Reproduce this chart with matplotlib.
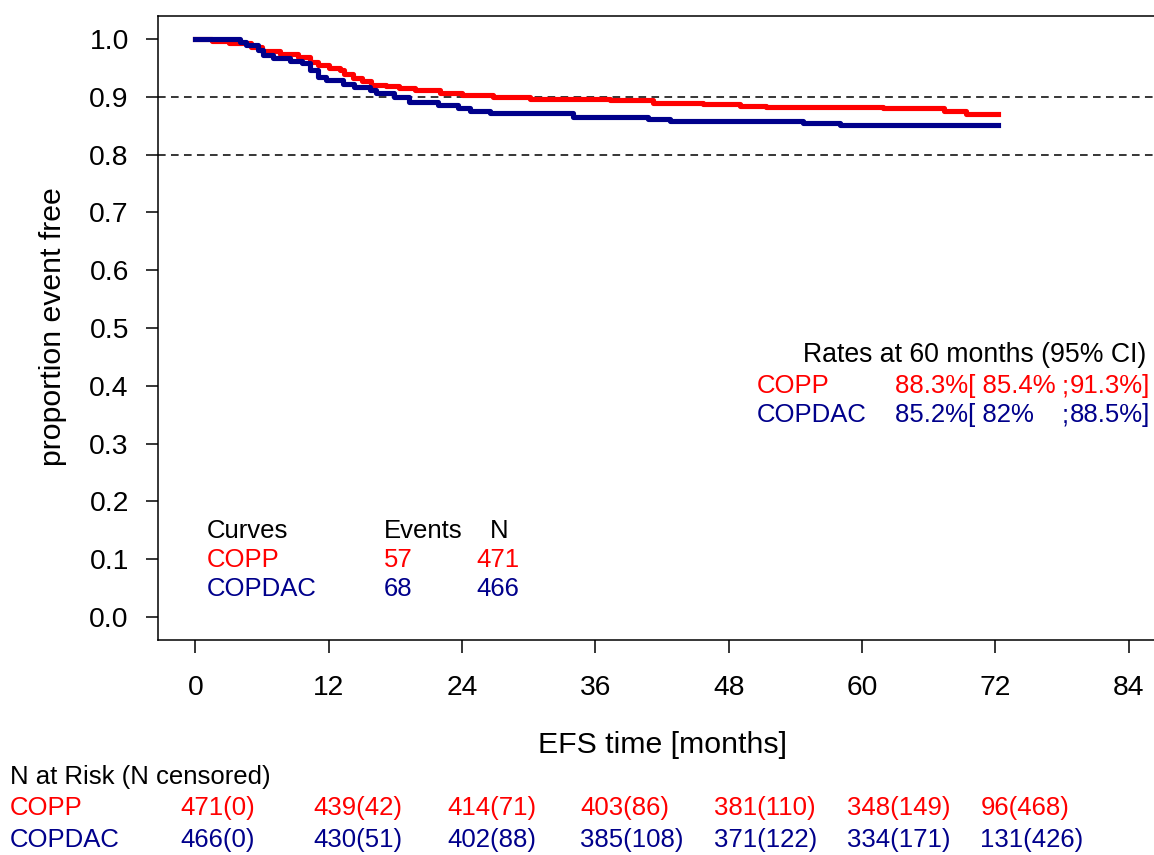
import matplotlib
matplotlib.use("Agg")
import matplotlib.pyplot as plt
import matplotlib.transforms as mtransforms

plt.rcParams['font.family'] = ['Liberation Sans', 'DejaVu Sans']

RED = "#FF0000"
BLUE = "#00008B"

# Kaplan-Meier step estimates (time in months, survival after each step)
copp_t = [0, 1.5, 3.0, 5.0, 6.0, 7.6, 9.2, 10.3, 11.0, 12.0, 13.0, 13.4, 14.2, 15.0,
          15.8, 17.2, 18.3, 19.8, 22.0, 24.0, 26.8, 30.1, 37.3, 41.2, 45.7, 49.0,
          51.4, 61.9, 67.4, 69.4, 72.2]
copp_s = [1.0, 0.997, 0.993, 0.987, 0.980, 0.974, 0.969, 0.961, 0.956, 0.950, 0.946,
          0.940, 0.933, 0.927, 0.921, 0.918, 0.915, 0.912, 0.907, 0.9035, 0.899, 0.897,
          0.8945, 0.890, 0.887, 0.885, 0.883, 0.880, 0.876, 0.870, 0.870]

copdac_t = [0, 4.0, 4.6, 5.6, 6.1, 7.0, 8.5, 9.6, 10.3, 11.0, 11.8, 13.3, 14.3, 15.7,
            16.3, 17.9, 19.2, 21.8, 23.6, 24.7, 26.5, 34.0, 40.7, 42.7, 54.7, 58.0, 72.2]
copdac_s = [1.0, 0.995, 0.989, 0.981, 0.972, 0.967, 0.962, 0.958, 0.946, 0.935, 0.929,
            0.923, 0.917, 0.912, 0.907, 0.900, 0.892, 0.886, 0.880, 0.876, 0.8715,
            0.866, 0.862, 0.858, 0.855, 0.852, 0.852]

groups = ["COPP", "COPDAC"]
events = [57, 68]
n_total = [471, 466]
rates = ["88.3%[ 85.4%", "85.2%[ 82%"]
rates_hi = ["91.3%]", "88.5%]"]

risk_times = [0, 12, 24, 36, 48, 60, 72]
copp_risk = ["471(0)", "439(42)", "414(71)", "403(86)", "381(110)", "348(149)", "96(468)"]
copdac_risk = ["466(0)", "430(51)", "402(88)", "385(108)", "371(122)", "334(171)", "131(426)"]

x_ticks = [0, 12, 24, 36, 48, 60, 72, 84]
y_ticks = [0.0, 0.1, 0.2, 0.3, 0.4, 0.5, 0.6, 0.7, 0.8, 0.9, 1.0]

W, H = 1154, 855
fig = plt.figure(figsize=(W / 100, H / 100), dpi=100)


def fx(px):
    return px / W


def fy(py):
    return 1 - py / H


ax = fig.add_axes([fx(158), fy(640), (1166 - 158) / W, (640 - 16) / H])
ax.set_xlim(-3.36, 87.36)
ax.set_ylim(-0.04, 1.04)

for yref in (0.9, 0.8):
    ax.axhline(yref, color="black", lw=1.1, ls=(0, (5, 3.5)), zorder=1)

ax.step(copp_t, copp_s, where="post", color=RED, lw=3.7, zorder=3)
ax.step(copdac_t, copdac_s, where="post", color=BLUE, lw=3.7, zorder=4)

ax.set_xticks(x_ticks)
ax.set_xticklabels([str(t) for t in x_ticks])
ax.set_yticks(y_ticks)
ax.set_yticklabels([f"{v:.1f}" for v in y_ticks])
ax.tick_params(axis="both", length=9, width=1.1, labelsize=20.3, color="black")
ax.tick_params(axis="x", pad=16)
ax.tick_params(axis="y", pad=12)
for sp in ax.spines.values():
    sp.set_linewidth(1.1)

# axis titles
fig.text(fx(662), fy(745), "EFS time [months]", fontsize=21.8, ha="center", va="center")
fig.text(fx(53), fy(327), "proportion event free", fontsize=21.8, ha="center",
         va="center", rotation=90)

fs = 18.5
# curve legend
fig.text(fx(207), fy(531), "Curves", fontsize=fs, va="center")
fig.text(fx(384), fy(531), "Events", fontsize=fs, va="center")
fig.text(fx(490), fy(531), "N", fontsize=fs, va="center")
for i, (g, c) in enumerate(zip(groups, [RED, BLUE])):
    yy = 560 + 29 * i
    fig.text(fx(207), fy(yy), g, fontsize=fs, va="center", color=c)
    fig.text(fx(384), fy(yy), str(events[i]), fontsize=fs, va="center", color=c)
    fig.text(fx(476), fy(yy), str(n_total[i]), fontsize=fs, va="center", color=c)

# rates at 60 months
fig.text(fx(803), fy(355), "Rates at 60 months (95% CI)", fontsize=19.2, va="center")
for i, (g, c) in enumerate(zip(groups, [RED, BLUE])):
    yy = 386 + 29 * i
    fig.text(fx(757), fy(yy), g, fontsize=fs, va="center", color=c)
    fig.text(fx(895), fy(yy), rates[i], fontsize=fs, va="center", color=c)
    fig.text(fx(1062), fy(yy), ";", fontsize=fs, va="center", color=c)
    fig.text(fx(1070), fy(yy), rates_hi[i], fontsize=fs, va="center", color=c)

# numbers at risk table
fig.text(fx(10), fy(777), "N at Risk (N censored)", fontsize=fs, va="center")
blend = mtransforms.blended_transform_factory(ax.transData, fig.transFigure)
for row, (g, c, vals) in enumerate(zip(groups, [RED, BLUE], [copp_risk, copdac_risk])):
    yy = 808 + 32 * row
    fig.text(fx(10), fy(yy), g, fontsize=fs, va="center", color=c)
    for t, v in zip(risk_times, vals):
        fig.text(t - 1.35, fy(yy), v, fontsize=fs, va="center", color=c,
                 transform=blend)

fig.savefig("out.png", dpi=100)
